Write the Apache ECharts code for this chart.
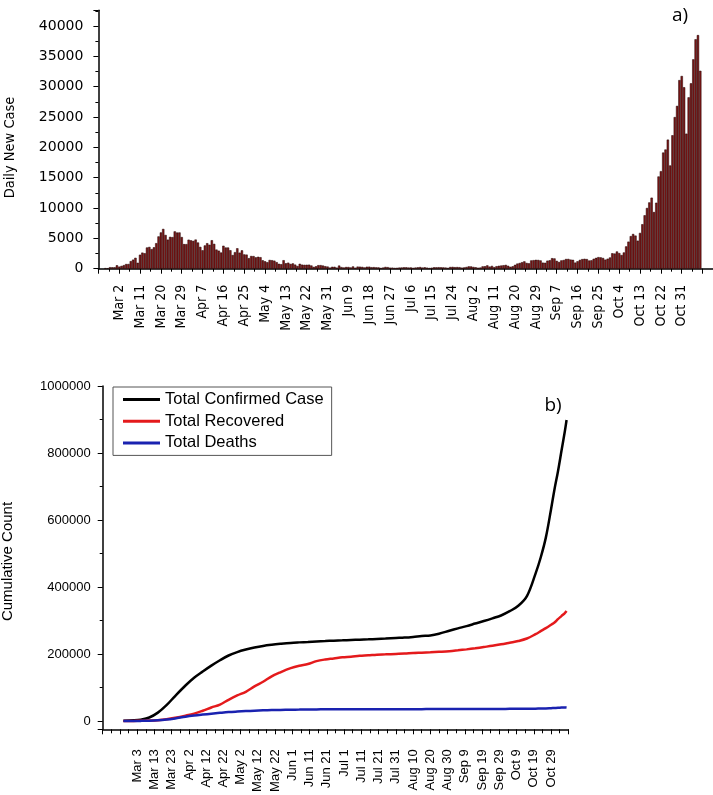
<!DOCTYPE html>
<html>
<head>
<meta charset="utf-8">
<script src="https://cdn.jsdelivr.net/npm/echarts@6/dist/echarts.min.js"></script>
<style>
html,body{margin:0;padding:0;background:#fff;}
#chart{width:713px;height:795px;}
</style>
</head>
<body>
<div id="chart"></div>
<script>
// ---------- Panel a) daily new cases ----------
const dailyStart = '2020-02-25';
const dailyNewCases = [
  93, 78, 250, 238, 240,
  566, 342, 466, 587, 769, 778, 1247, 1492, 1797, 977, 2313, 2651, 2547, 3497, 3590, 3233, 3526, 4207, 5322, 5986, 6557, 5560, 4789, 5249, 5210, 6153, 5959, 5974, 5217, 4050, 4053,
  4782, 4668, 4585, 4805, 4316, 3599, 3039, 3836, 4204, 3951, 4694, 4092, 3153, 2972, 2667, 3786, 3493, 3491, 3047, 2256, 2729, 3370, 2646, 3021, 2357, 2324, 1739, 2091, 2086, 1872,
  1965, 1900, 1389, 1221, 1075, 1444, 1401, 1327, 1083, 802, 744, 1402, 888, 992, 789, 875, 675, 451, 813, 665, 642, 652, 669, 531, 300, 397, 584, 593, 516, 416, 355,
  178, 318, 321, 177, 518, 270, 197, 280, 283, 202, 379, 163, 346, 338, 301, 210, 329, 333, 251, 262, 224, 218, 122, 190, 296, 259, 175, 174, 126, 142,
  187, 201, 223, 235, 192, 208, 138, 193, 229, 276, 188, 234, 169, 114, 163, 230, 233, 249, 219, 218, 190, 129, 282, 306, 252, 275, 255, 170, 212, 289, 386,
  379, 295, 239, 159, 190, 384, 402, 552, 347, 463, 259, 412, 481, 523, 574, 629, 479, 320, 403, 642, 845, 947, 1071, 1210, 953, 878, 1367, 1411, 1462, 1444, 1365,
  996, 978, 1326, 1397, 1733, 1695, 1297, 1108, 1370, 1434, 1597, 1616, 1501, 1458, 1008, 1229, 1452, 1585, 1638, 1587, 1350, 1392, 1640, 1786, 1912, 1869, 1766, 1494, 1648, 1851,
  2548, 2499, 2844, 2578, 2257, 2677, 3678, 4458, 5372, 5724, 5456, 4619, 5901, 7332, 8804, 10010, 10925, 11705, 9338, 10874, 15199, 16079, 19143, 19644, 21273, 17012, 21994, 24991, 26831, 31084, 31758,
  29907, 22253, 28244, 30550, 34505, 37809, 38500, 32616
];
const topTickOrigin = '2020-03-02';
const topTickLabels = ['Mar 2','Mar 11','Mar 20','Mar 29','Apr 7','Apr 16','Apr 25','May 4','May 13','May 22','May 31','Jun 9','Jun 18','Jun 27','Jul 6','Jul 15','Jul 24','Aug 2','Aug 11','Aug 20','Aug 29','Sep 7','Sep 16','Sep 25','Oct 4','Oct 13','Oct 22','Oct 31'];

// ---------- Panel b) cumulative counts ----------
const cumDates = ['2020-02-24','2020-03-01','2020-03-05','2020-03-10','2020-03-15','2020-03-20','2020-03-25','2020-03-31',
  '2020-04-05','2020-04-10','2020-04-15','2020-04-20','2020-04-25','2020-04-30','2020-05-05','2020-05-10','2020-05-15','2020-05-20','2020-05-25','2020-05-31',
  '2020-06-05','2020-06-10','2020-06-15','2020-06-20','2020-06-25','2020-06-30','2020-07-05','2020-07-10','2020-07-15','2020-07-20','2020-07-25','2020-07-31',
  '2020-08-05','2020-08-10','2020-08-15','2020-08-20','2020-08-25','2020-08-31','2020-09-05','2020-09-10','2020-09-15','2020-09-20','2020-09-25','2020-09-30',
  '2020-10-05','2020-10-10','2020-10-15','2020-10-20','2020-10-23','2020-10-26','2020-10-29','2020-10-31','2020-11-02','2020-11-04','2020-11-06','2020-11-07'];
const totalConfirmed = [229,1694,3858,10149,24747,47021,74386,105792,
  128948,147577,165155,181228,195351,205463,213013,219070,223885,227364,230158,233019,
  234531,235763,237290,238499,239706,240578,241611,242639,243506,244624,245864,247537,
  248803,250825,253438,255278,260298,269214,276338,283180,290668,298156,306235,314861,
  327586,343770,372799,440000,488000,548000,632000,692000,745000,805000,865000,898500];
const totalRecovered = [1,83,414,1004,2335,5129,9362,15729,
  21815,30455,40164,48877,63120,75945,87000,103000,117000,133000,145000,157507,
  164781,169939,178526,183426,186725,190248,191944,194579,196016,197842,198756,199974,
  200976,202697,203786,204960,206329,208224,210801,213634,216935,220665,224417,228760,
  233614,238525,246000,259000,268000,277000,287000,294000,304000,313000,322000,328000];
const totalDeaths = [7,34,148,631,1809,4032,7503,12428,
  15887,18849,21645,24114,26384,27967,29315,30560,31610,32330,32877,33415,
  33774,34114,34371,34634,34678,34767,34861,34938,34997,35045,35102,35146,
  35181,35209,35234,35418,35445,35483,35541,35597,35633,35707,35781,35894,
  36030,36140,36427,36705,37059,37338,38122,38618,39059,39764,40300,40600];
const bottomTickOrigin = '2020-03-03';
const bottomTickLabels = ['Mar 3','Mar 13','Mar 23','Apr 2','Apr 12','Apr 22','May 2','May 12','May 22','Jun 1','Jun 11','Jun 21','Jul 1','Jul 11','Jul 21','Jul 31','Aug 10','Aug 20','Aug 30','Sep 9','Sep 19','Sep 29','Oct 9','Oct 19','Oct 29'];
const seriesNames = ['Total Confirmed Case','Total Recovered','Total Deaths'];

function dayDiff(a, b) { return Math.round((Date.parse(a) - Date.parse(b)) / 86400000); }
const dailyOffset = dayDiff(dailyStart, topTickOrigin);
const barData = dailyNewCases.map((v, i) => [dailyOffset + i, v]);
const cumX = cumDates.map(d => dayDiff(d, bottomTickOrigin));
const mk = arr => arr.map((v, i) => [cumX[i], v]);

const narrow = "'Liberation Sans Narrow','DejaVu Sans Condensed',sans-serif";
const arial = "'Liberation Sans',Arial,sans-serif";
const blackLine = { color: '#000', width: 1.5 };

function labelFrom(list, step) {
  return function (v) {
    const k = Math.round(v / step);
    if (Math.abs(v - k * step) < 1e-6 && k >= 0 && k < list.length) return list[k];
    return '';
  };
}

const chart = echarts.init(document.getElementById('chart'), null, { renderer: 'canvas' });
chart.setOption({
  animation: false,
  backgroundColor: '#fff',
  grid: [
    { left: 98.4, top: 10.2, width: 615.6, height: 258.5 },
    { left: 102.7, top: 386, width: 465.6, height: 343.3 }
  ],
  xAxis: [
    {
      gridIndex: 0, type: 'value', min: -9, max: 256.5, interval: 9,
      axisLine: { show: true, onZero: false, lineStyle: blackLine },
      axisTick: { show: true, length: 5, lineStyle: { color: '#000', width: 1 } },
      minorTick: { show: true, splitNumber: 2, length: 3, lineStyle: { color: '#000', width: 1 } },
      splitLine: { show: false }, minorSplitLine: { show: false },
      axisLabel: { rotate: 90, margin: 16, fontSize: 14, fontFamily: narrow, color: '#000',
        hideOverlap: false,
        formatter: labelFrom(topTickLabels, 9) }
    },
    {
      gridIndex: 1, type: 'value', min: -20, max: 250, interval: 10,
      axisLine: { show: true, onZero: false, lineStyle: blackLine },
      axisTick: { show: true, length: 5, lineStyle: { color: '#000', width: 1 } },
      minorTick: { show: true, splitNumber: 2, length: 4, lineStyle: { color: '#000', width: 1 } },
      splitLine: { show: false }, minorSplitLine: { show: false },
      axisLabel: { rotate: 90, margin: 20, fontSize: 13, fontFamily: arial, color: '#000',
        hideOverlap: false,
        formatter: labelFrom(bottomTickLabels, 10) }
    }
  ],
  yAxis: [
    {
      gridIndex: 0, type: 'value', min: 0, max: 42600, interval: 5000,
      axisLine: { show: true, onZero: false, lineStyle: blackLine },
      axisTick: { show: true, length: 5, lineStyle: { color: '#000', width: 1 } },
      minorTick: { show: true, splitNumber: 2, length: 3, lineStyle: { color: '#000', width: 1 } },
      splitLine: { show: false }, minorSplitLine: { show: false },
      axisLabel: { margin: 15, fontSize: 14, fontFamily: "'DejaVu Sans',sans-serif", color: '#000', showMaxLabel: false,
        formatter: v => (v % 5000 === 0 ? String(v) : '') }
    },
    {
      gridIndex: 1, type: 'value', min: -25000, max: 1000000, splitNumber: 5,
      minInterval: 200000, maxInterval: 200000,
      axisLine: { show: true, onZero: false, lineStyle: blackLine },
      axisTick: { show: true, length: 5, lineStyle: { color: '#000', width: 1 } },
      minorTick: { show: true, splitNumber: 2, length: 3, lineStyle: { color: '#000', width: 1 } },
      splitLine: { show: false }, minorSplitLine: { show: false },
      axisLabel: { margin: 12, fontSize: 13, fontFamily: arial, color: '#000', showMinLabel: false,
        formatter: v => (v < 0 ? '' : String(v)) }
    }
  ],
  legend: {
    data: seriesNames,
    orient: 'vertical', left: 113, top: 387,
    icon: 'rect', itemWidth: 37, itemHeight: 3, itemGap: 4.7,
    padding: [4, 8, 4, 10],
    borderColor: '#555', borderWidth: 1,
    textStyle: { fontSize: 16.5, fontFamily: arial, color: '#000', lineHeight: 16 }
  },
  graphic: [
    { type: 'text', x: 10, y: 147.5, rotation: Math.PI / 2,
      style: { text: 'Daily New Case', font: "14.5px 'Liberation Sans Narrow','DejaVu Sans Condensed',sans-serif", fill: '#000', textAlign: 'center', textVerticalAlign: 'middle', verticalAlign: 'middle' } },
    { type: 'text', x: 7.5, y: 561.5, rotation: Math.PI / 2,
      style: { text: 'Cumulative Count', font: "15px 'Liberation Sans',Arial,sans-serif", fill: '#000', textAlign: 'center', textVerticalAlign: 'middle', verticalAlign: 'middle' } },
    { type: 'text', x: 680, y: 16,
      style: { text: 'a)', font: "19px 'Open Sans',sans-serif", fill: '#000', textAlign: 'center', textVerticalAlign: 'middle', verticalAlign: 'middle' } },
    { type: 'text', x: 553, y: 405.5,
      style: { text: 'b)', font: "19px 'Open Sans',sans-serif", fill: '#000', textAlign: 'center', textVerticalAlign: 'middle', verticalAlign: 'middle' } }
  ],
  series: [
    {
      name: 'Daily New Case', type: 'bar', xAxisIndex: 0, yAxisIndex: 0,
      data: barData, barWidth: 2.3,
      itemStyle: { color: '#7d1616', borderColor: '#1e0303', borderWidth: 0.5 }
    },
    {
      name: seriesNames[0], type: 'line', xAxisIndex: 1, yAxisIndex: 1, color: '#000',
      data: mk(totalConfirmed), showSymbol: false, symbol: 'none', smooth: 0.35,
      lineStyle: { width: 2.5, color: '#000' }
    },
    {
      name: seriesNames[1], type: 'line', xAxisIndex: 1, yAxisIndex: 1, color: '#e41a1c',
      data: mk(totalRecovered), showSymbol: false, symbol: 'none', smooth: 0.35,
      lineStyle: { width: 2.5, color: '#e41a1c' }
    },
    {
      name: seriesNames[2], type: 'line', xAxisIndex: 1, yAxisIndex: 1, color: '#1a22b0',
      data: mk(totalDeaths), showSymbol: false, symbol: 'none', smooth: 0.35,
      lineStyle: { width: 2.5, color: '#1a22b0' }
    }
  ]
});
</script>
</body>
</html>
